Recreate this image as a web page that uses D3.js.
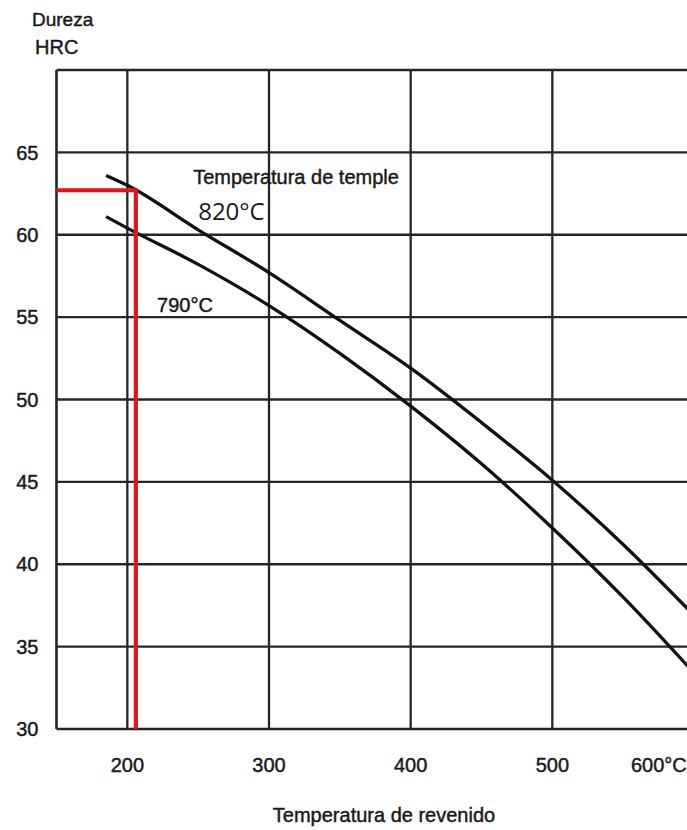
<!DOCTYPE html>
<html>
<head>
<meta charset="utf-8">
<script src="https://cdn.jsdelivr.net/npm/d3@7"></script>
<style>
  body { margin: 0; background: #fff; }
  svg text { font-family: "Liberation Sans", Arial, sans-serif; fill: #1a1a1a; stroke: #1a1a1a; stroke-width: 0.45px; }
</style>
</head>
<body>
<div id="chart"></div>
<script>
// data
const xTicks = [200, 300, 400, 500, 600];
const xTickLabels = ["200", "300", "400", "500", "600°C"];
const yTicks = [30, 35, 40, 45, 50, 55, 60, 65];

const temps820 = [185, 200, 250, 300, 350, 400, 450, 500, 550, 600];
const hrc820   = [63.6, 63.0, 60.3, 57.7, 54.8, 51.9, 48.6, 45.1, 41.2, 36.9];

const temps790 = [185, 200, 250, 300, 350, 400, 450, 500, 550, 600];
const hrc790   = [61.1, 60.4, 58.2, 55.7, 52.8, 49.6, 46.1, 42.2, 38.0, 33.4];

// red reading line
const readTemp = 206;
const readHrc = 62.7;

const width = 687, height = 830;

const svg = d3.select("#chart")
    .append("svg")
    .attr("width", width)
    .attr("height", height);

const xScale = d3.scaleLinear()
    .domain([150, 600])
    .range([56.5, 694]);

const yScale = d3.scaleLinear()
    .domain([30, 70])
    .range([729, 70]);

const gridColor = "#262626";

// horizontal grid lines
svg.append("g")
    .selectAll("line")
    .data(yTicks.concat([70]))
    .join("line")
    .attr("x1", xScale(150))
    .attr("x2", width)
    .attr("y1", d => yScale(d))
    .attr("y2", d => yScale(d))
    .attr("stroke", gridColor)
    .attr("stroke-width", 2.3);

// vertical grid lines (left edge + each tick)
svg.append("g")
    .selectAll("line")
    .data([150].concat(xTicks))
    .join("line")
    .attr("x1", d => xScale(d))
    .attr("x2", d => xScale(d))
    .attr("y1", yScale(70))
    .attr("y2", yScale(30))
    .attr("stroke", gridColor)
    .attr("stroke-width", d => d == 150 ? 2.6 : 2.3);

// y tick labels
svg.append("g")
    .selectAll("text")
    .data(yTicks)
    .join("text")
    .attr("x", xScale(150) - 18)
    .attr("y", d => yScale(d))
    .attr("dy", "0.36em")
    .attr("text-anchor", "end")
    .style("font-size", "20px")
    .text(d => d);

// x tick labels
svg.append("g")
    .selectAll("text")
    .data(xTicks)
    .join("text")
    .attr("x", (d, i) => i == xTicks.length - 1 ? xScale(d) - 63 : xScale(d))
    .attr("y", yScale(30) + 43)
    .attr("text-anchor", (d, i) => i == xTicks.length - 1 ? "start" : "middle")
    .style("font-size", "20px")
    .text((d, i) => xTickLabels[i]);

// axis titles
svg.append("text")
    .attr("x", 32)
    .attr("y", 26)
    .style("font-size", "19px")
    .text("Dureza");

svg.append("text")
    .attr("x", 35)
    .attr("y", 54)
    .style("font-size", "20px")
    .text("HRC");

svg.append("text")
    .attr("x", 384)
    .attr("y", 822)
    .attr("text-anchor", "middle")
    .style("font-size", "20px")
    .text("Temperatura de revenido");

// curves
const line = d3.line()
    .x(d => xScale(d[0]))
    .y(d => yScale(d[1]))
    .curve(d3.curveMonotoneX);

const series = [
    temps820.map((t, i) => [t, hrc820[i]]),
    temps790.map((t, i) => [t, hrc790[i]])
];

svg.append("g")
    .selectAll("path")
    .data(series)
    .join("path")
    .attr("d", d => line(d))
    .attr("fill", "none")
    .attr("stroke", "#111")
    .attr("stroke-width", 3.3);

// curve labels
svg.append("text")
    .attr("x", xScale(246.5))
    .attr("y", yScale(63.1))
    .style("font-size", "20px")
    .text("Temperatura de temple");

svg.append("text")
    .attr("x", xScale(250))
    .attr("y", yScale(60.87))
    .style("font-family", "'Open Sans', sans-serif")
    .style("stroke-width", "0px")
    .style("font-size", "24px")
    .text("820°C");

svg.append("text")
    .attr("x", xScale(221))
    .attr("y", yScale(55.33))
    .style("font-size", "20px")
    .text("790°C");

// red reading line
svg.append("path")
    .attr("d", d3.line()([
        [xScale(150), yScale(readHrc)],
        [xScale(readTemp), yScale(readHrc)],
        [xScale(readTemp), yScale(30)]
    ]))
    .attr("fill", "none")
    .attr("stroke", "#e3131b")
    .attr("stroke-width", 4.2);
</script>
</body>
</html>
